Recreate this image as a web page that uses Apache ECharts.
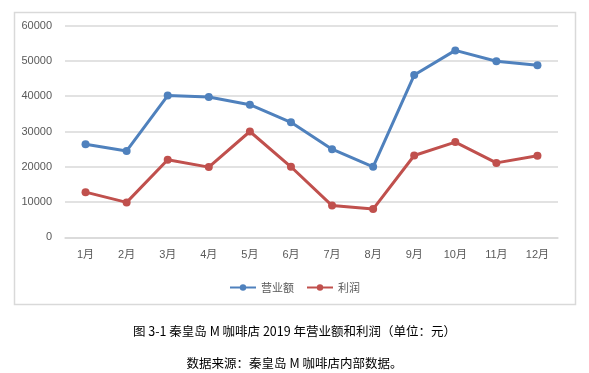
<!DOCTYPE html>
<html>
<head>
<meta charset="utf-8">
<script src="https://cdn.jsdelivr.net/npm/echarts@6/dist/echarts.min.js"></script>
<style>
html,body{margin:0;padding:0;background:#fff;}
#c{width:589px;height:373px;}
</style>
</head>
<body>
<div id="c"></div>
<script>
const categories = ['1月','2月','3月','4月','5月','6月','7月','8月','9月','10月','11月','12月'];
const revenue = [26400, 24500, 40200, 39800, 37600, 32600, 25000, 20000, 46000, 53000, 49900, 48800];
const profit = [12800, 9900, 22000, 19900, 30000, 20000, 9000, 8000, 23200, 27000, 21100, 23100];
const seriesNames = ['营业额', '利润'];
const caption = '图 3-1 秦皇岛 M 咖啡店 2019 年营业额和利润（单位：元）';
const source = '数据来源：秦皇岛 M 咖啡店内部数据。';

const chart = echarts.init(document.getElementById('c'), null, {renderer: 'canvas'});
const labelFont = '"Liberation Sans", "Noto Sans CJK SC", sans-serif';
chart.setOption({
  animation: false,
  graphic: [
    {type: 'rect', left: 12, top: 10, shape: {width: 561, height: 292},
     style: {fill: 'none', stroke: '#d9d9d9', lineWidth: 1.5}, z: -1},
    {type: 'text', left: 'center', top: 325,
     style: {text: caption, font: '12.5px "Noto Sans CJK SC", serif', fill: '#000'}},
    {type: 'text', left: 'center', top: 357,
     style: {text: source, font: '12.5px "Noto Sans CJK SC", serif', fill: '#000'}}
  ],
  grid: {left: 65, right: 31, top: 25.7, bottom: 135.7, containLabel: false},
  legend: {
    data: seriesNames,
    top: 277,
    left: 'center',
    itemWidth: 26,
    itemHeight: 8,
    itemGap: 12,
    textStyle: {color: '#595959', fontSize: 11, fontFamily: '"Noto Sans CJK SC", sans-serif'}
  },
  xAxis: {
    type: 'category',
    data: categories,
    boundaryGap: true,
    axisLine: {show: true, lineStyle: {color: '#d9d9d9', width: 1.5}},
    axisTick: {show: false},
    axisLabel: {color: '#595959', fontSize: 11, margin: 12, fontFamily: labelFont}
  },
  yAxis: {
    type: 'value',
    min: 0, max: 60000, interval: 10000,
    axisLine: {show: false},
    axisTick: {show: false},
    splitLine: {lineStyle: {color: '#d9d9d9', width: 1.5}},
    axisLabel: {color: '#595959', fontSize: 11, margin: 13, fontFamily: labelFont,
                formatter: v => String(v)}
  },
  series: [
    {name: seriesNames[0], type: 'line', data: revenue, symbol: 'circle', symbolSize: 8,
     itemStyle: {color: '#4f81bd'}, lineStyle: {width: 3, color: '#4f81bd'}},
    {name: seriesNames[1], type: 'line', data: profit, symbol: 'circle', symbolSize: 8,
     itemStyle: {color: '#c0504d'}, lineStyle: {width: 3, color: '#c0504d'}}
  ]
});
</script>
</body>
</html>
